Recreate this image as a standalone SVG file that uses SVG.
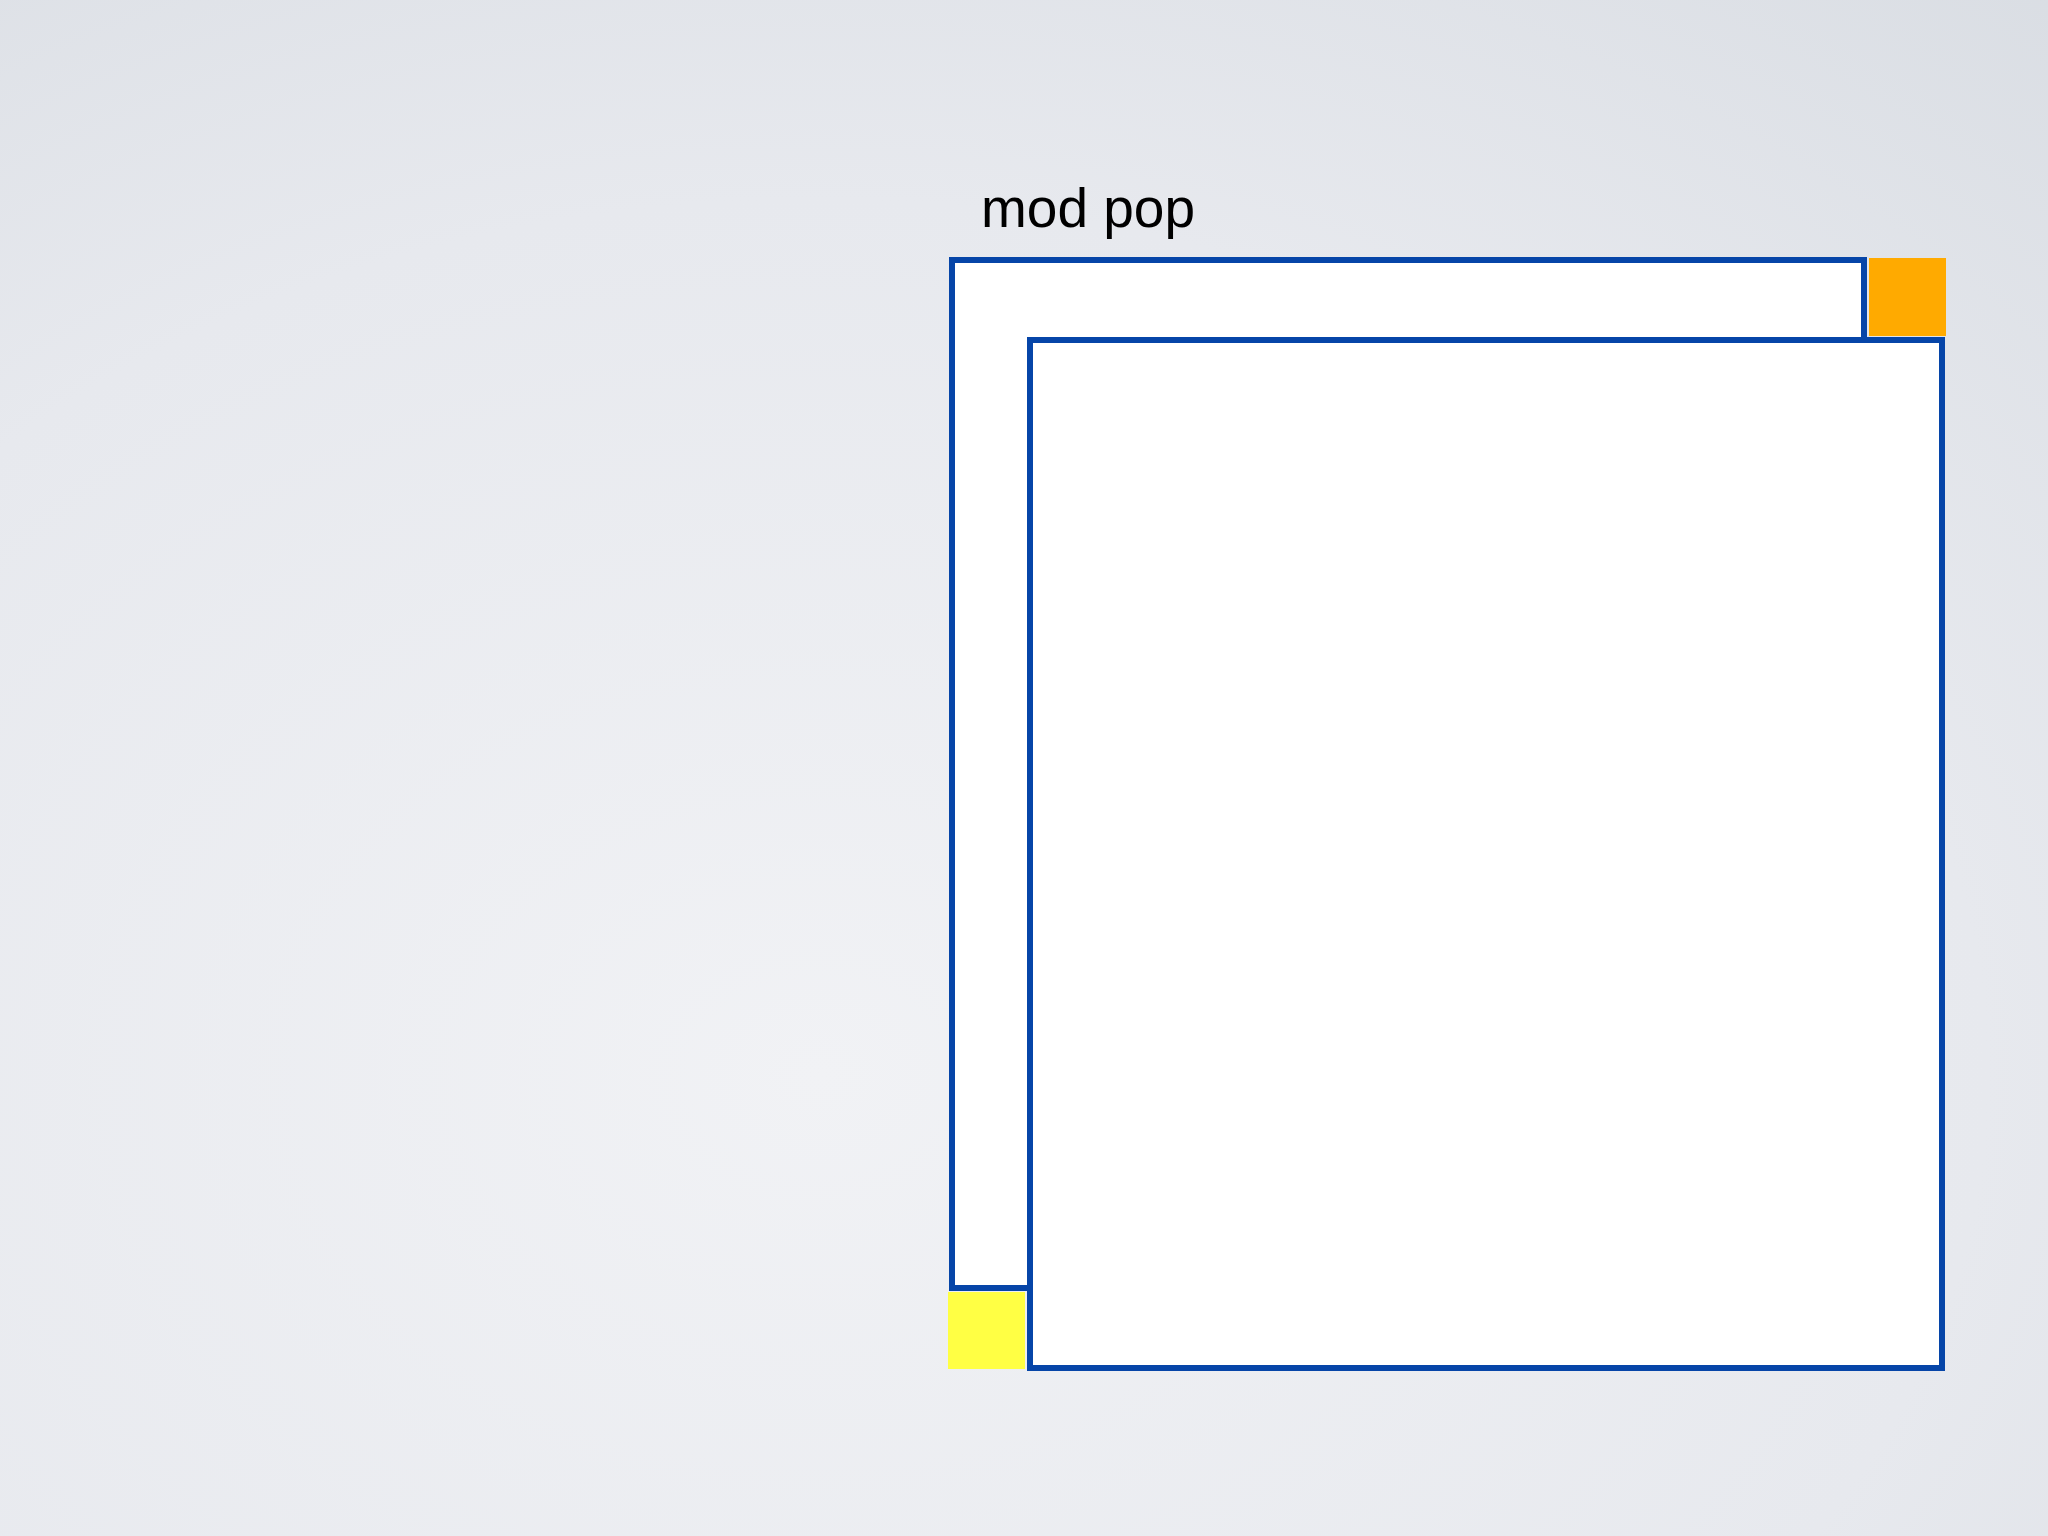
<svg xmlns="http://www.w3.org/2000/svg" width="2048" height="1536" viewBox="0 0 2048 1536">
  <defs>
    <radialGradient id="bg" cx="0.4" cy="0.7" r="0.95">
      <stop offset="0" stop-color="#f1f2f5"/>
      <stop offset="0.6" stop-color="#e7e9ee"/>
      <stop offset="1" stop-color="#d9dde3"/>
    </radialGradient>
    <style>
      .box { fill: #ffffff; stroke: #0645a8; stroke-width: 6; }
      .label { font-family: "Liberation Sans", Arial, sans-serif; font-size: 55px; fill: #000000; }
    </style>
  </defs>
  <rect x="0" y="0" width="2048" height="1536" fill="url(#bg)"/>
  <text class="label" x="981" y="227">mod pop</text>
  <g id="outer">
    <rect class="box" x="952" y="260" width="912" height="1028"/>
  </g>
  <g id="orange">
    <rect x="1869" y="258" width="77" height="78" fill="#ffaa00"/>
  </g>
  <g id="yellow">
    <rect x="948" y="1292" width="77" height="77" fill="#ffff44"/>
  </g>
  <g id="inner">
    <rect class="box" x="1030" y="340" width="912" height="1028"/>
  </g>
  <g id="connectors"/>
</svg>
